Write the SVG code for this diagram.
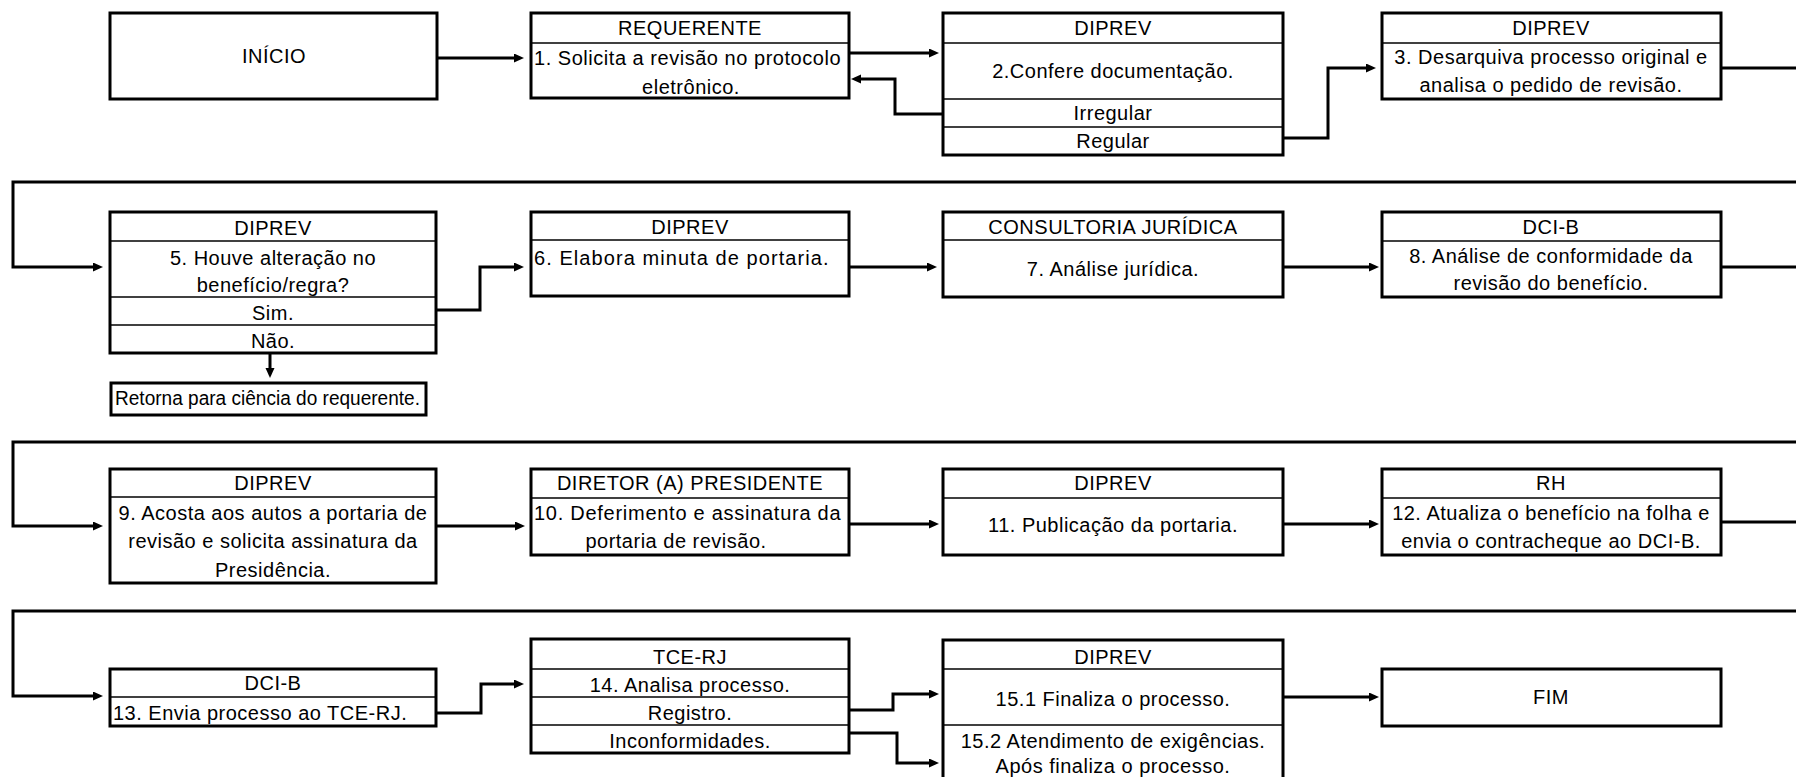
<svg xmlns="http://www.w3.org/2000/svg" width="1796" height="777" viewBox="0 0 1796 777">
<defs>
<style>
.box{fill:#fff;stroke:#000;stroke-width:3}
.dv{stroke:#000;stroke-width:1.5}
.t{font-family:"Liberation Sans",Arial,sans-serif;font-size:20px;fill:#000;text-anchor:middle;letter-spacing:0.5px}
.l{text-anchor:start}
.conn path{fill:none;stroke:#000;stroke-width:3}
</style>
<marker id="ah" markerUnits="userSpaceOnUse" markerWidth="11" markerHeight="10" refX="3" refY="4.5" orient="auto">
<path d="M0,0 L10,4.5 L0,9 z" fill="#000"/>
</marker>
</defs>
<rect width="1796" height="777" fill="#fff"/>

<g class="conn">
<path d="M437,58 H517" marker-end="url(#ah)"/>
<path d="M849,53 H932" marker-end="url(#ah)"/>
<path d="M943,114 H895 V79 H858" marker-end="url(#ah)"/>
<path d="M1283,138 H1328 V68 H1369" marker-end="url(#ah)"/>
<path d="M1721,68 H1796"/>
<path d="M1796,182 H13 V267 H96" marker-end="url(#ah)"/>
<path d="M436,310 H480 V267 H517" marker-end="url(#ah)"/>
<path d="M270,353 V371" marker-end="url(#ah)"/>
<path d="M849,267 H930" marker-end="url(#ah)"/>
<path d="M1283,267 H1372" marker-end="url(#ah)"/>
<path d="M1721,267 H1796"/>
<path d="M1796,442 H13 V526 H96" marker-end="url(#ah)"/>
<path d="M436,526 H518" marker-end="url(#ah)"/>
<path d="M849,524 H932" marker-end="url(#ah)"/>
<path d="M1283,524 H1372" marker-end="url(#ah)"/>
<path d="M1721,522 H1796"/>
<path d="M1796,611 H13 V696 H96" marker-end="url(#ah)"/>
<path d="M436,713 H481 V684 H517" marker-end="url(#ah)"/>
<path d="M845,710 H893 V694 H932" marker-end="url(#ah)"/>
<path d="M845,733 H897 V763 H932" marker-end="url(#ah)"/>
<path d="M1283,697 H1372" marker-end="url(#ah)"/>
</g>

<g id="inicio">
<rect class="box" x="110" y="13" width="327" height="86"/>
<text class="t" x="274" y="63">INÍCIO</text>
</g>

<g id="n1">
<rect class="box" x="531" y="13" width="318" height="85"/>
<line class="dv" x1="531" y1="43" x2="849" y2="43"/>
<text class="t" x="690" y="35">REQUERENTE</text>
<text class="t l" x="534" y="65" textLength="307">1. Solicita a revisão no protocolo</text>
<text class="t" x="691" y="94">eletrônico.</text>
</g>

<g id="n2">
<rect class="box" x="943" y="13" width="340" height="142"/>
<line class="dv" x1="943" y1="43" x2="1283" y2="43"/>
<line class="dv" x1="943" y1="99" x2="1283" y2="99"/>
<line class="dv" x1="943" y1="127" x2="1283" y2="127"/>
<text class="t" x="1113" y="35">DIPREV</text>
<text class="t" x="1113" y="78">2.Confere documentação.</text>
<text class="t" x="1113" y="120">Irregular</text>
<text class="t" x="1113" y="148">Regular</text>
</g>

<g id="n3">
<rect class="box" x="1382" y="13" width="339" height="86"/>
<line class="dv" x1="1382" y1="43" x2="1721" y2="43"/>
<text class="t" x="1551" y="35">DIPREV</text>
<text class="t" x="1551" y="64">3. Desarquiva processo original e</text>
<text class="t" x="1551" y="92">analisa o pedido de revisão.</text>
</g>

<g id="n5">
<rect class="box" x="110" y="212" width="326" height="141"/>
<line class="dv" x1="110" y1="241" x2="436" y2="241"/>
<line class="dv" x1="110" y1="297" x2="436" y2="297"/>
<line class="dv" x1="110" y1="325" x2="436" y2="325"/>
<text class="t" x="273" y="235">DIPREV</text>
<text class="t" x="273" y="265">5. Houve alteração no</text>
<text class="t" x="273" y="292">benefício/regra?</text>
<text class="t" x="273" y="320">Sim.</text>
<text class="t" x="273" y="348">Não.</text>
</g>

<g id="retorna">
<rect class="box" x="111" y="383" width="315" height="32"/>
<text class="t l" x="115" y="405" textLength="305" lengthAdjust="spacingAndGlyphs" style="letter-spacing:0">Retorna para ciência do requerente.</text>
</g>

<g id="n6">
<rect class="box" x="531" y="212" width="318" height="84"/>
<line class="dv" x1="531" y1="240" x2="849" y2="240"/>
<text class="t" x="690" y="234">DIPREV</text>
<text class="t l" x="534" y="265" textLength="295">6. Elabora minuta de portaria.</text>
</g>

<g id="n7">
<rect class="box" x="943" y="212" width="340" height="85"/>
<line class="dv" x1="943" y1="240" x2="1283" y2="240"/>
<text class="t" x="1113" y="234">CONSULTORIA JURÍDICA</text>
<text class="t" x="1113" y="276">7. Análise jurídica.</text>
</g>

<g id="n8">
<rect class="box" x="1382" y="212" width="339" height="85"/>
<line class="dv" x1="1382" y1="241" x2="1721" y2="241"/>
<text class="t" x="1551" y="234">DCI-B</text>
<text class="t" x="1551" y="263">8. Análise de conformidade da</text>
<text class="t" x="1551" y="290">revisão do benefício.</text>
</g>

<g id="n9">
<rect class="box" x="110" y="469" width="326" height="114"/>
<line class="dv" x1="110" y1="497" x2="436" y2="497"/>
<text class="t" x="273" y="490">DIPREV</text>
<text class="t" x="273" y="520">9. Acosta aos autos a portaria de</text>
<text class="t" x="273" y="548">revisão e solicita assinatura da</text>
<text class="t" x="273" y="577">Presidência.</text>
</g>

<g id="n10">
<rect class="box" x="531" y="469" width="318" height="86"/>
<line class="dv" x1="531" y1="498" x2="849" y2="498"/>
<text class="t" x="690" y="490">DIRETOR (A) PRESIDENTE</text>
<text class="t l" x="534" y="520" textLength="307">10. Deferimento e assinatura da</text>
<text class="t" x="676" y="548">portaria de revisão.</text>
</g>

<g id="n11">
<rect class="box" x="943" y="469" width="340" height="86"/>
<line class="dv" x1="943" y1="498" x2="1283" y2="498"/>
<text class="t" x="1113" y="490">DIPREV</text>
<text class="t" x="1113" y="532">11. Publicação da portaria.</text>
</g>

<g id="n12">
<rect class="box" x="1382" y="469" width="339" height="86"/>
<line class="dv" x1="1382" y1="498" x2="1721" y2="498"/>
<text class="t" x="1551" y="490">RH</text>
<text class="t" x="1551" y="520">12. Atualiza o benefício na folha e</text>
<text class="t" x="1551" y="548">envia o contracheque ao DCI-B.</text>
</g>

<g id="n13">
<rect class="box" x="110" y="669" width="326" height="57"/>
<line class="dv" x1="110" y1="697" x2="436" y2="697"/>
<text class="t" x="273" y="690">DCI-B</text>
<text class="t l" x="113" y="720">13. Envia processo ao TCE-RJ.</text>
</g>

<g id="n14">
<rect class="box" x="531" y="639" width="318" height="114"/>
<line class="dv" x1="531" y1="669" x2="849" y2="669"/>
<line class="dv" x1="531" y1="697" x2="849" y2="697"/>
<line class="dv" x1="531" y1="725" x2="849" y2="725"/>
<text class="t" x="690" y="664">TCE-RJ</text>
<text class="t" x="690" y="692">14. Analisa processo.</text>
<text class="t" x="690" y="720">Registro.</text>
<text class="t" x="690" y="748">Inconformidades.</text>
</g>

<g id="n15">
<rect class="box" x="943" y="640" width="340" height="150"/>
<line class="dv" x1="943" y1="669" x2="1283" y2="669"/>
<line class="dv" x1="943" y1="725" x2="1283" y2="725"/>
<text class="t" x="1113" y="664">DIPREV</text>
<text class="t" x="1113" y="706">15.1 Finaliza o processo.</text>
<text class="t" x="1113" y="748">15.2 Atendimento de exigências.</text>
<text class="t" x="1113" y="773">Após finaliza o processo.</text>
</g>

<g id="fim">
<rect class="box" x="1382" y="669" width="339" height="57"/>
<text class="t" x="1551" y="704">FIM</text>
</g>
</svg>
